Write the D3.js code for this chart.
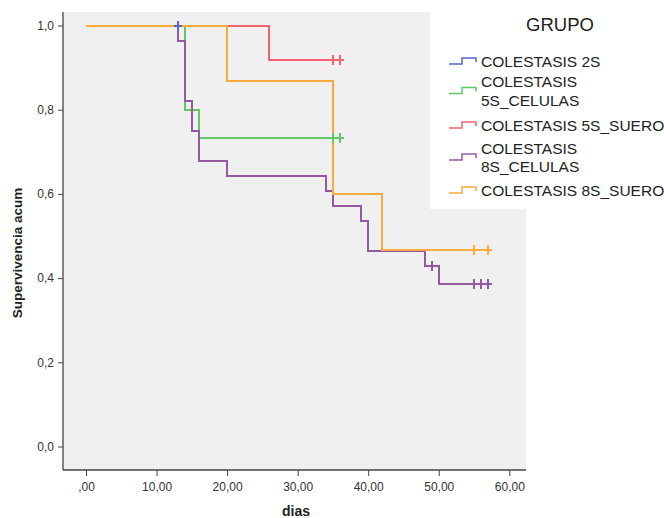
<!DOCTYPE html>
<html>
<head>
<meta charset="utf-8">
<script src="https://cdn.jsdelivr.net/npm/d3@7"></script>
<style>
  body { margin: 0; background: #fff; }
  text { font-family: "Liberation Sans", Arial, sans-serif; }
</style>
</head>
<body>
<div id="root"></div>
<script>
// groups in legend order
var groups = ["COLESTASIS 2S", "COLESTASIS 5S_CELULAS", "COLESTASIS 5S_SUERO", "COLESTASIS 8S_CELULAS", "COLESTASIS 8S_SUERO"];
var legendLines = [["COLESTASIS 2S"], ["COLESTASIS", "5S_CELULAS"], ["COLESTASIS 5S_SUERO"], ["COLESTASIS", "8S_CELULAS"], ["COLESTASIS 8S_SUERO"]];
var colors = ["#5468c0", "#62c866", "#f2636f", "#9459a0", "#fbaa3c"];

// event times and survival after each event
var times2S = [0];
var surv2S = [1];
var cens2S = [13];

var times5SCel = [0, 14, 16];
var surv5SCel = [1, 0.800, 0.733];
var cens5SCel = [35, 36];

var times5SSue = [0, 26];
var surv5SSue = [1, 0.917];
var cens5SSue = [35, 36];

var times8SCel = [0, 13, 14, 15, 16, 20, 34, 35, 39, 40, 48, 50];
var surv8SCel = [1, 0.964, 0.821, 0.750, 0.679, 0.643, 0.607, 0.571, 0.536, 0.464, 0.429, 0.386];
var cens8SCel = [49, 55, 56, 57];

var times8SSue = [0, 20, 35, 42];
var surv8SSue = [1, 0.867, 0.600, 0.467];
var cens8SSue = [55, 57];

var xTicks = [0, 10, 20, 30, 40, 50, 60];
var yTicks = [0, 0.2, 0.4, 0.6, 0.8, 1.0];

var series = [
  {times: times2S, surv: surv2S, cens: cens2S},
  {times: times5SCel, surv: surv5SCel, cens: cens5SCel},
  {times: times5SSue, surv: surv5SSue, cens: cens5SSue},
  {times: times8SCel, surv: surv8SCel, cens: cens8SCel},
  {times: times8SSue, surv: surv8SSue, cens: cens8SSue}
];

function drawChart() {
  var margin = {top: 12, left: 63},
      width = 463,
      height = 458;

  var x = d3.scaleLinear().domain([0, 60]).range([23, 446.3]);
  var y = d3.scaleLinear().domain([0, 1]).range([434.5, 13.5]);

  var svg = d3.select("#root").append("svg")
      .attr("width", 664)
      .attr("height", 518);

  var g = svg.append("g")
      .attr("transform", "translate(" + margin.left + "," + margin.top + ")");

  // plot background
  g.append("rect")
    .attr("width", width)
    .attr("height", height)
    .attr("fill", "#f0f0f0");

  // survival value at time t
  function survAt(s, t) {
    var v = s.surv[0];
    s.times.forEach(function(tt, i) { if (tt <= t) v = s.surv[i]; });
    return v;
  }

  var line = d3.line()
      .x(function(d) { return x(d[0]); })
      .y(function(d) { return y(d[1]); })
      .curve(d3.curveStepAfter);

  series.forEach(function(s, i) {
    var pts = s.times.map(function(t, j) { return [t, s.surv[j]]; });
    var end = d3.max(s.cens.concat(s.times));
    pts.push([end, s.surv[s.surv.length - 1]]);
    g.append("path")
      .datum(pts)
      .attr("fill", "none")
      .attr("stroke", colors[i])
      .attr("stroke-width", 2)
      .attr("shape-rendering", "crispEdges")
      .attr("d", line);
  });

  // censor marks (plus signs)
  series.forEach(function(s, i) {
    g.selectAll(".cens" + i)
      .data(s.cens)
      .enter().append("path")
      .attr("d", function(d) {
        var cx = x(d), cy = y(survAt(s, d));
        return "M" + cx + "," + (cy - 5) + "V" + (cy + 5) +
               "M" + (cx - 4) + "," + cy + "H" + (cx + 4);
      })
      .attr("fill", "none")
      .attr("stroke", colors[i])
      .attr("stroke-width", 2)
      .attr("shape-rendering", "crispEdges");
  });

  // y axis
  var yAxis = g.append("g")
    .call(d3.axisLeft(y).tickValues(yTicks).tickSize(5).tickPadding(4)
      .tickFormat(function(d) { return d3.format(".1f")(d).replace(".", ","); }));
  yAxis.select(".domain").remove();
  yAxis.selectAll("text").attr("font-size", 12).attr("fill", "#333").attr("font-family", "Liberation Sans, Arial, sans-serif");
  yAxis.selectAll("line").attr("stroke", "#444");

  // x axis
  var xAxis = g.append("g")
    .attr("transform", "translate(0," + height + ")")
    .call(d3.axisBottom(x).tickValues(xTicks).tickSize(6).tickPadding(6.5)
      .tickFormat(function(d) { return d === 0 ? ",00" : d3.format(".2f")(d).replace(".", ","); }));
  xAxis.select(".domain").remove();
  xAxis.selectAll("text").attr("font-size", 12).attr("fill", "#333").attr("font-family", "Liberation Sans, Arial, sans-serif");
  xAxis.selectAll("line").attr("stroke", "#444");

  // axis lines
  g.append("line").attr("x1", 0).attr("x2", 0).attr("y1", 0).attr("y2", height)
    .attr("stroke", "#444").attr("stroke-width", 1.3);
  g.append("line").attr("x1", 0).attr("x2", width).attr("y1", height).attr("y2", height)
    .attr("stroke", "#444").attr("stroke-width", 1.3);

  // axis titles
  svg.append("text")
    .attr("transform", "translate(22,253) rotate(-90)")
    .attr("text-anchor", "middle")
    .attr("font-size", 13.5)
    .attr("font-weight", "bold")
    .attr("fill", "#222")
    .text("Supervivencia acum");

  svg.append("text")
    .attr("x", 296)
    .attr("y", 516)
    .attr("text-anchor", "middle")
    .attr("font-size", 14)
    .attr("font-weight", "bold")
    .attr("fill", "#222")
    .text("dias");

  // legend
  var lg = svg.append("g");
  lg.append("rect")
    .attr("x", 430).attr("y", 0)
    .attr("width", 234).attr("height", 209)
    .attr("fill", "#fff");

  lg.append("text")
    .attr("x", 560).attr("y", 31)
    .attr("text-anchor", "middle")
    .attr("font-size", 18.5)
    .attr("fill", "#222")
    .text("GRUPO");

  var itemY = [61, 90.5, 125, 157, 190];
  groups.forEach(function(name, i) {
    var cy = itemY[i];
    lg.append("path")
      .attr("d", "M449," + (cy + 3) + "H462V" + (cy - 3) + "H476V" + (cy + 1))
      .attr("fill", "none")
      .attr("stroke", colors[i])
      .attr("stroke-width", 1.5);
    var lines = legendLines[i];
    lines.forEach(function(t, k) {
      var ty = lines.length === 1 ? cy : cy - 9 + k * 18.5;
      lg.append("text")
        .attr("x", 481)
        .attr("y", ty + 5.5)
        .attr("font-size", 15.5)
        .attr("fill", "#222")
        .text(t);
    });
  });
}

drawChart();
</script>
</body>
</html>
